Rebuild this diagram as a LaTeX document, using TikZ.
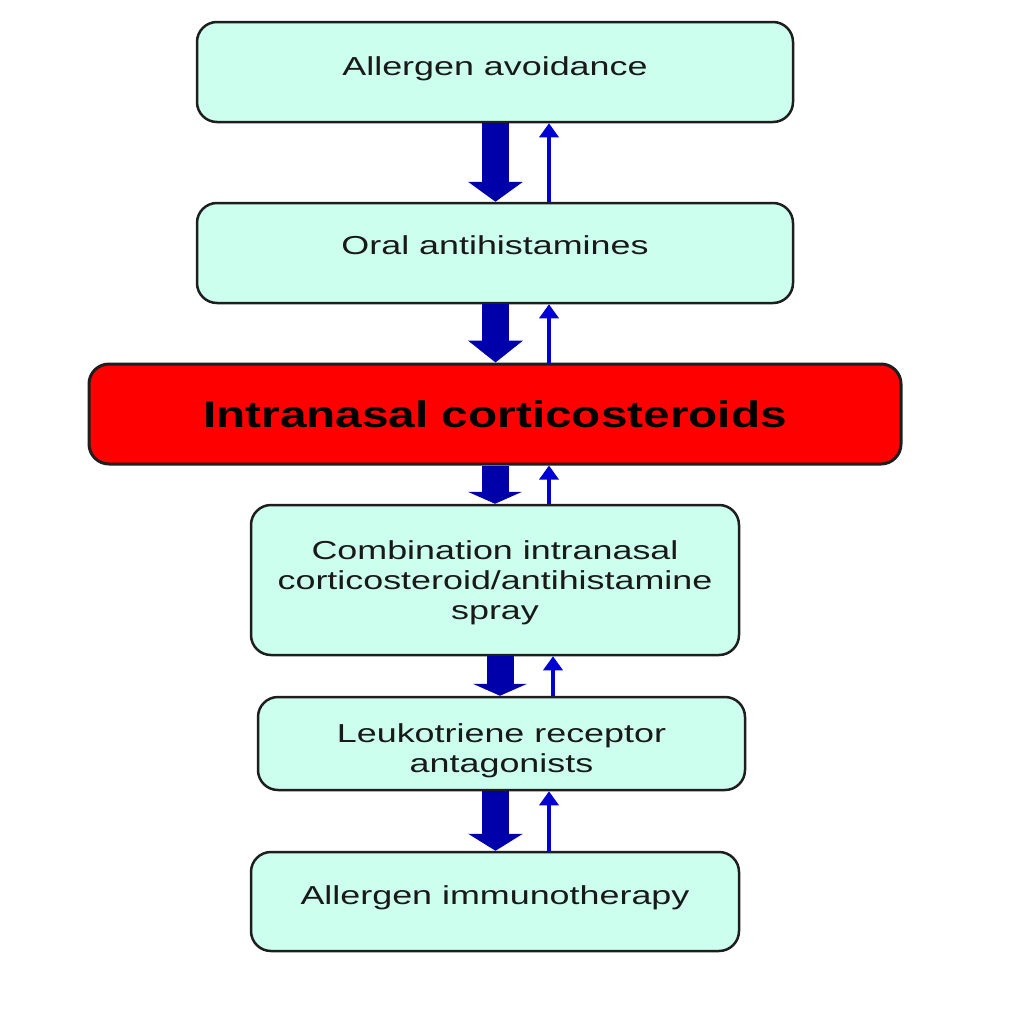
\documentclass[tikz,border=0pt]{standalone}
\usepackage{fontspec}
\usetikzlibrary{arrows.meta}
\newfontfamily\boxfont[FakeStretch=1.38]{Liberation Sans}
\newfontfamily\titlefont[FakeStretch=1.29]{Liberation Sans}
\definecolor{boxfill}{RGB}{204,255,238}
\definecolor{thickblue}{RGB}{0,0,170}
\definecolor{thinblue}{RGB}{0,0,210}
\definecolor{boxline}{RGB}{30,30,30}
\newcommand{\lines}[2]{\raisebox{#1}[\height][\depth]{\begin{tabular}{@{}c@{}}#2\end{tabular}}}
\tikzset{
  stepbox/.style={draw=boxline, line width=2.5pt, fill=boxfill, rounded corners=20pt,
    inner sep=0pt, align=center, text=black!90, font=\boxfont\fontsize{26}{30}\selectfont},
  keybox/.style={stepbox, fill=red, line width=3pt, text=black, font=\titlefont\bfseries\fontsize{37}{42}\selectfont},
  downarrow/.style={draw=thickblue, line width=27pt, -{Triangle[width=54pt,length=#1]}},
  uparrow/.style={draw=thinblue, line width=3.5pt, -{Triangle[width=19pt,length=14pt]}},
}
\begin{document}
\begin{tikzpicture}[x=1pt,y=-1pt]
\useasboundingbox (0,0) rectangle (1024,1009);
\fill[white] (0,0) rectangle (1024,1009);
\node[stepbox, minimum width=596pt, minimum height=100pt] (a) at (495,72) {\lines{3pt}{Allergen avoidance}};
\node[stepbox, minimum width=596pt, minimum height=100pt] (b) at (495,253) {\lines{5pt}{Oral antihistamines}};
\node[keybox, minimum width=812pt, minimum height=100pt] (c) at (495,414) {Intranasal corticosteroids};
\node[stepbox, minimum width=488pt, minimum height=150pt] (d) at (495,580) {\lines{-3pt}{Combination intranasal\\corticosteroid/antihistamine\\spray}};
\node[stepbox, minimum width=487pt, minimum height=93pt] (e) at (501.5,743.5) {\lines{-8pt}{Leukotriene receptor\\antagonists}};
\node[stepbox, minimum width=488pt, minimum height=99pt] (f) at (495,901.5) {\lines{3pt}{Allergen immunotherapy}};
% down arrows
\draw[downarrow=20pt] (a.south -| 495.5,0) -- (b.north -| 495.5,0);
\draw[downarrow=22pt] (b.south -| 495.5,0) -- (c.north -| 495.5,0);
\draw[downarrow=12pt] (c.south -| 495,0) -- (d.north -| 495,0);
\draw[downarrow=12pt] (d.south -| 500,0) -- (e.north -| 500,0);
\draw[downarrow=17pt] (e.south -| 495.5,0) -- (f.north -| 495.5,0);
% up arrows
\draw[uparrow] (b.north -| 549,0) -- (a.south -| 549,0);
\draw[uparrow] (c.north -| 549,0) -- (b.south -| 549,0);
\draw[uparrow] (d.north -| 549,0) -- (c.south -| 549,0);
\draw[uparrow] (e.north -| 553,0) -- (d.south -| 553,0);
\draw[uparrow] (f.north -| 549,0) -- (e.south -| 549,0);
\end{tikzpicture}
\end{document}
